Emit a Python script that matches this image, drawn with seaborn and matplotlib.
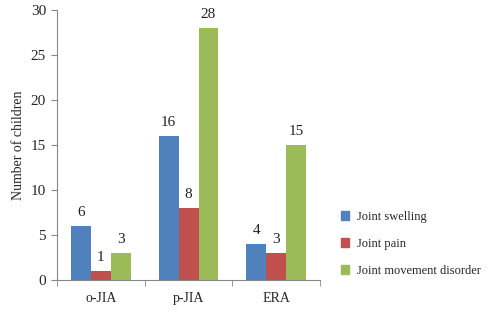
import matplotlib
matplotlib.use("Agg")
import matplotlib.pyplot as plt
import numpy as np
import pandas as pd
import seaborn as sns
from matplotlib.patches import Patch

groups = ["o-JIA", "p-JIA", "ERA"]
symptoms = ["Joint swelling", "Joint pain", "Joint movement disorder"]
swelling = [6, 16, 4]
pain = [1, 8, 3]
movement = [3, 28, 15]

colors = ["#4F81BD", "#C0504D", "#9BBB59"]

df = pd.DataFrame({
    "group": groups * 3,
    "symptom": [symptoms[0]] * 3 + [symptoms[1]] * 3 + [symptoms[2]] * 3,
    "count": swelling + pain + movement,
})

sns.set_style("white")
plt.rcParams["font.family"] = ["Liberation Serif", "DejaVu Serif"]

fig = plt.figure(figsize=(4.88, 3.12), dpi=100)
ax = fig.add_axes([0.117, 0.103, 0.539, 0.865])

sns.barplot(df, x="group", y="count", hue="symptom", palette=colors,
            width=0.68, ax=ax, legend=False, saturation=1, linewidth=0)

for c in ax.containers:
    ax.bar_label(c, padding=5, fontsize=11, color="#222222")

ax.set_ylim(0, 30)
ax.set_yticks(range(0, 31, 5))
ax.set_xlim(-0.5, 2.5)
ax.set_xlabel("")
ax.set_ylabel("Number of children", fontsize=10)
ax.tick_params(axis="y", labelsize=11, length=4, color="#888888", direction="out", left=True, pad=4)
ax.tick_params(axis="x", labelsize=10, length=0, pad=9)
ax.set_xticks([-0.5, 0.5, 1.5, 2.5], minor=True)
ax.tick_params(axis="x", which="minor", length=4, color="#888888", direction="out", bottom=True)

for s in ["top", "right"]:
    ax.spines[s].set_visible(False)
for s in ["left", "bottom"]:
    ax.spines[s].set_color("#888888")
    ax.spines[s].set_linewidth(0.8)

handles = [Patch(color=col, label=lab) for col, lab in zip(colors, symptoms)]
fig.legend(handles=handles, loc="upper left", bbox_to_anchor=(0.675, 0.36),
           frameon=False, fontsize=9, handlelength=0.7, handleheight=0.7,
           labelspacing=1.2, handletextpad=0.6)

fig.savefig("out.png", dpi=100)
